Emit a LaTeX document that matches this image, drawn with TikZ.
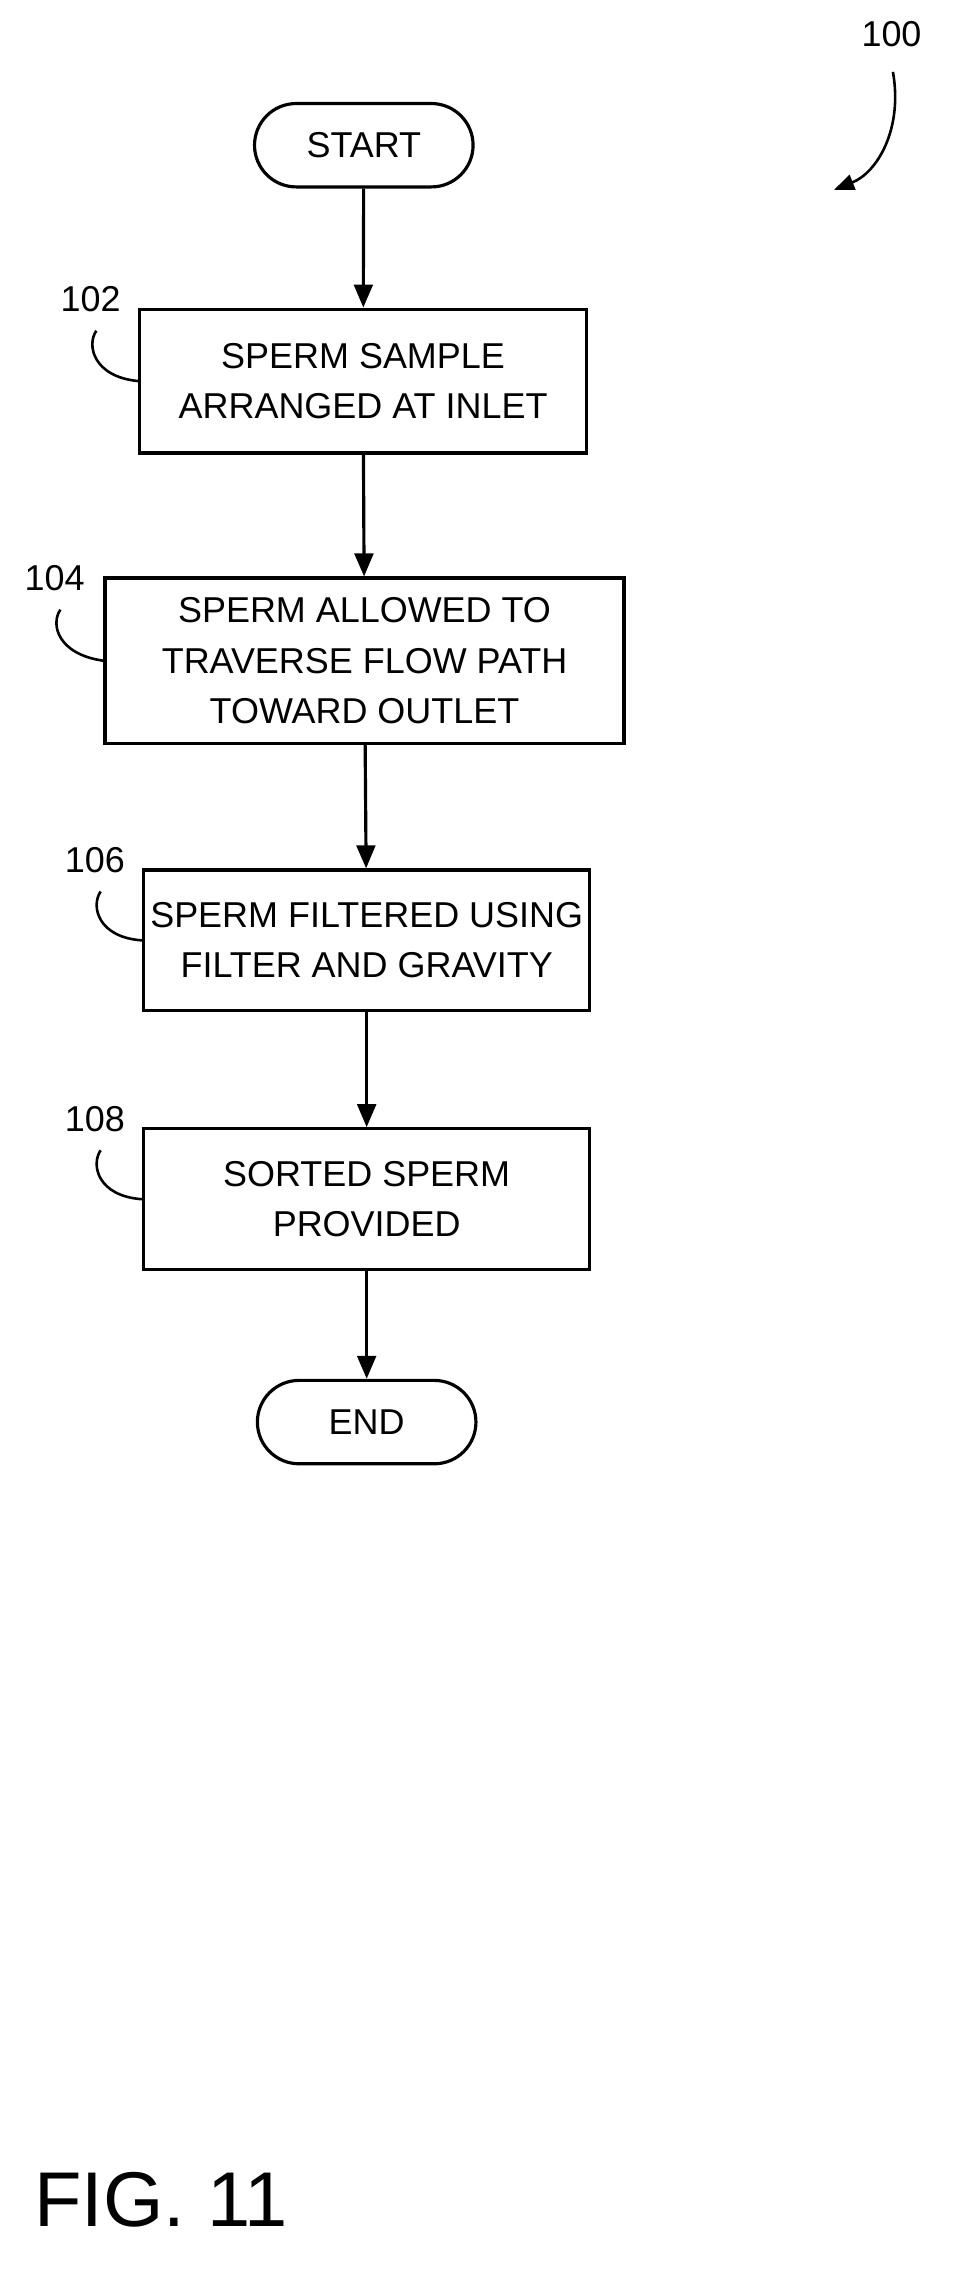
\documentclass[tikz,border=0pt]{standalone}
\usepackage{fontspec}
\setmainfont{Liberation Sans}
\usetikzlibrary{positioning,arrows.meta}
\begin{document}
\begin{tikzpicture}[x=1pt,y=1pt,font=\fontsize{25}{35}\selectfont,
  stepbox/.style={draw,line width=2.2pt,align=center,inner sep=0pt},
  term/.style={draw,line width=2.2pt,rounded corners=29pt,minimum width=152pt,minimum height=58pt},
  flow/.style={line width=2.2pt,-{Triangle[length=16pt,width=13pt]}},
  lead/.style={line width=1.8pt}]
\useasboundingbox (0,0) rectangle (664,-1578);
% terminals and steps
\node[term] (start) at (253,-101) {START};
\node[stepbox,minimum width=311pt,minimum height=100pt] (s102) at (252.5,-265) {SPERM SAMPLE\\ARRANGED AT INLET};
\node[stepbox,minimum width=361pt,minimum height=115pt] (s104) at (253.5,-459.5) {SPERM ALLOWED TO\\TRAVERSE FLOW PATH\\TOWARD OUTLET};
\node[stepbox,minimum width=310pt,minimum height=98pt] (s106) at (255,-654) {SPERM FILTERED USING\\FILTER AND GRAVITY};
\node[stepbox,minimum width=310pt,minimum height=98pt] (s108) at (255,-834) {SORTED SPERM\\PROVIDED};
\node[term] (end) at (255,-989) {END};
% connectors
\draw[flow] (start) -- (s102);
\draw[flow] (s102) -- (s104);
\draw[flow] (s104) -- (s106);
\draw[flow] (s106) -- (s108);
\draw[flow] (s108) -- (end);
% reference labels
\node (n102) at (63,-208) {102};
\node (n104) at (38,-402) {104};
\node (n106) at (66,-598) {106};
\node (n108) at (66,-778) {108};
\draw[lead] (67,-230) .. controls (60,-240) and (65,-262) .. (s102.west);
\draw[lead] (42,-424) .. controls (35,-434) and (40,-455) .. (s104.west);
\draw[lead] (70,-620) .. controls (63,-630) and (68,-652) .. (s106.west);
\draw[lead] (70,-800) .. controls (63,-810) and (68,-832) .. (s108.west);
\node (n100) at (620,-24) {100};
\coordinate (a100) at (580,-132);
\draw[lead,-{Triangle[length=14pt,width=11pt]}] (621,-50) .. controls (628,-90) and (610,-120) .. (a100);
\node[font=\fontsize{54}{60}\selectfont] (fig) at (112,-1530) {FIG. 11};
\end{tikzpicture}
\end{document}
